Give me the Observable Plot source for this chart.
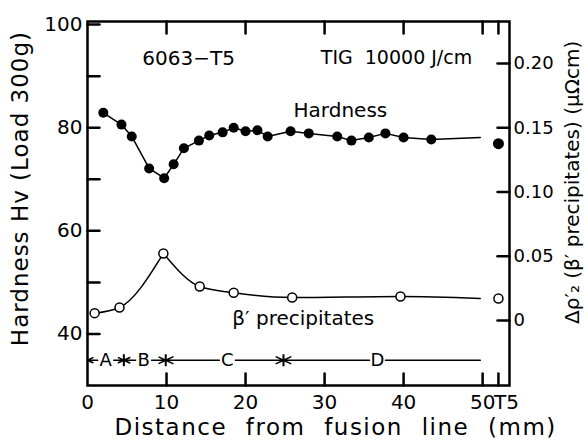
<!DOCTYPE html>
<html><head><meta charset="utf-8">
<script src="https://cdn.jsdelivr.net/npm/d3@7"></script>
<script src="https://cdn.jsdelivr.net/npm/@observablehq/plot@0.6"></script>
<style>body{margin:0;background:#fff} svg{font-family:"DejaVu Sans"}</style>
</head><body><div id="chart"></div>
<script>
// ---- data ----
const hardX  = [2.0,4.3,5.6,7.8,9.7,10.9,12.2,14.1,15.4,17.1,18.5,20.0,21.5,22.8,25.7,28.0,31.6,33.4,35.6,37.7,40.0,43.5];
const hardHv = [82.9,80.6,78.3,72.1,70.2,72.9,76.0,77.5,78.5,79.1,80.0,79.3,79.5,78.3,79.3,78.9,78.3,77.5,78.1,78.9,78.1,77.7];
const hardTailX = 49.7, hardTailHv = 78.1;
const precipX = [0.9,4.05,9.6,14.2,18.5,25.9,39.6];
const precipV = [0.0057,0.0101,0.0522,0.0264,0.0216,0.0179,0.0187];
const precipPeakIndex = 2;
const precipTailX = 49.7, precipTailV = 0.0172;
const t5X = 52.0, t5Hv = 76.9, t5V = 0.0171;

const leftTicks = [40,50,60,70,80,90,100];
const leftLabelTicks = [40,60,80,100];
const rightTicks = [0,0.05,0.10,0.15,0.20];
const rightLabels = ["0","0.05","0.10","0.15","0.20"];
const xLabelTicks = [0,10,20,30,40,50];
const xTicks = [10,20,30,40,50,t5X];

const regionBounds = [0,4.6,9.9,24.8];
const regionLabels = ["A","B","C","D"];
const regionLabelX = [2.3,7.1,17.7,36.7];
const regionEnd = 49.7;
const regionHv = 34.9;

const notes = [
  {text:"6063\u2212T5", x:12.8, hv:93.5, size:20},
  {text:"TIG\u00a0\u00a010000 J/cm", x:39.1, hv:93.6, size:19},
  {text:"Hardness", x:32.0, hv:83.3, size:20},
  {text:"\u03b2\u2032 precipitates", x:27.3, hv:42.9, size:20}
];
const xTitle = "Distance from fusion line (mm)";
const yTitle = "Hardness Hv (Load 300g)";
const y2Title = "\u0394\u03c1\u2032\u2082 (\u03b2\u2032 precipitates) (\u03bc\u03a9cm)";

// right axis (precipitates) mapped onto hardness scale
const toH = v => 42.61 + 249.2 * v;
const rightTicksH = rightTicks.map(toH);

const hardness = hardX.map((x,i)=>({x, hv:hardHv[i]}));
const hardLine = [...hardness, {x:hardTailX, hv:hardTailHv}];
const precip = precipX.map((x,i)=>({x, hv:toH(precipV[i])}));
const precipLine = [
  ...precip.slice(0, precipPeakIndex+1).map(d=>({...d, seg:"rise"})),
  ...precip.slice(precipPeakIndex).map(d=>({...d, seg:"fall"})),
  {x:precipTailX, hv:toH(precipTailV), seg:"fall"}
];

const headed = [], plain = [];
regionLabels.forEach((l,i)=>{
  headed.push({x1:regionLabelX[i], x2:regionBounds[i]});
  if (i < regionBounds.length-1) headed.push({x1:regionLabelX[i], x2:regionBounds[i+1]});
  else plain.push({x1:regionLabelX[i], x2:regionEnd});
});
const vbar = {draw(ctx, size){ const r = Math.sqrt(size/Math.PI); ctx.moveTo(0,-r); ctx.lineTo(0,r); }};
const tickShape = {draw(ctx, l){ ctx.moveTo(0,0); ctx.lineTo(0,-l); }};
const TS = 12; // inward tick length
const tickOpts = {length:TS, anchor:"start", shape:tickShape, stroke:"black", strokeWidth:2.5};
const rowOpts = {x1:"x1", x2:"x2", y1:()=>regionHv, y2:()=>regionHv, stroke:"black", strokeWidth:1.5, headAngle:50, insetStart:8};

const chart = Plot.plot({
  width:585, height:447,
  marginLeft:87, marginRight:76, marginTop:21, marginBottom:62,
  style:{fontFamily:"DejaVu Sans", fontSize:"20px", background:"white", color:"black"},
  x:{domain:[0,53.4]},
  y:{domain:[30,100.6]},
  marks:[
    // tick labels
    Plot.axisY(leftLabelTicks, {anchor:"left", tickSize:0, tickPadding:5, fontSize:20, label:null}),
    Plot.axisY(rightTicksH, {anchor:"right", tickSize:0, tickPadding:4, fontSize:18, label:null,
      tickFormat:d=>rightLabels[rightTicksH.findIndex(t=>Math.abs(t-d)<1e-6)]}),
    Plot.axisX(xLabelTicks, {anchor:"bottom", tickSize:0, tickPadding:9, fontSize:20, label:null}),
    Plot.text(["T5"], {x:()=>t5X, frameAnchor:"bottom", lineAnchor:"top", dy:9, dx:8, fontSize:20}),
    // inward ticks
    Plot.vector(leftTicks, {y:d=>d, frameAnchor:"left", rotate:90, ...tickOpts}),
    Plot.vector(rightTicksH, {y:d=>d, frameAnchor:"right", rotate:-90, ...tickOpts}),
    Plot.vector(xTicks, {x:d=>d, frameAnchor:"bottom", rotate:0, ...tickOpts}),
    Plot.vector(xTicks, {x:d=>d, frameAnchor:"top", rotate:180, ...tickOpts}),
    Plot.frame({stroke:"black", strokeWidth:2.5}),
    // region annotation row
    Plot.arrow(headed, {...rowOpts, headLength:8}),
    Plot.arrow(plain, {...rowOpts, headLength:0}),
    Plot.dot(regionBounds.slice(1), {x:d=>d, y:()=>regionHv, symbol:vbar, r:6, stroke:"black", strokeWidth:2}),
    Plot.text(regionLabels, {x:(d,i)=>regionLabelX[i], y:()=>regionHv, text:d=>d, fontSize:18, fill:"black"}),
    // hardness
    Plot.line(hardLine, {x:"x", y:"hv", stroke:"black", strokeWidth:1.5}),
    Plot.dot(hardness, {x:"x", y:"hv", r:5, fill:"black"}),
    Plot.dot([{x:t5X, hv:t5Hv}], {x:"x", y:"hv", r:5.5, fill:"black"}),
    // precipitates
    Plot.line(precipLine, {x:"x", y:"hv", z:"seg", curve:"monotone-x", stroke:"black", strokeWidth:1.5}),
    Plot.dot(precip, {x:"x", y:"hv", r:4.5, fill:"white", stroke:"black", strokeWidth:1.5}),
    Plot.dot([{x:t5X, hv:toH(t5V)}], {x:"x", y:"hv", r:4.5, fill:"white", stroke:"black", strokeWidth:1.5}),
    // annotations
    Plot.text(notes, {x:"x", y:"hv", text:"text", fontSize:d=>d.size, fill:"black"}),
    // titles
    Plot.text([xTitle], {x:()=>31.4, frameAnchor:"bottom", textAnchor:"middle", dy:49, fontSize:23, fill:"black"}),
    Plot.text([yTitle], {y:()=>68.2, frameAnchor:"left", textAnchor:"middle", dx:-67, rotate:-90, fontSize:23, fill:"black"}),
    Plot.text([y2Title], {y:()=>69.4, frameAnchor:"right", textAnchor:"middle", dx:63, rotate:-90, fontSize:20, fill:"black"})
  ]
});
document.getElementById("chart").appendChild(chart);
d3.select(chart).selectAll("text").filter(function(){return this.textContent===xTitle;}).attr("word-spacing","10").attr("letter-spacing","1.5");
d3.select(chart).selectAll("text").filter(function(){return this.textContent===yTitle;}).attr("letter-spacing","1");
</script></body></html>
